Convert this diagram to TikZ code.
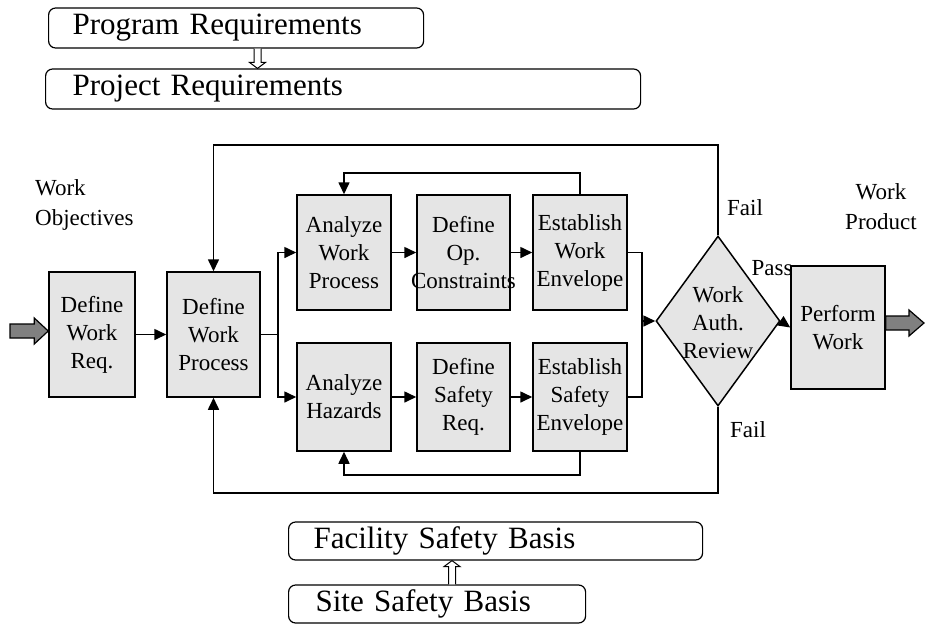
\documentclass[tikz,border=0pt]{standalone}
\usepackage{fontspec}
\setmainfont{Liberation Serif}
\usetikzlibrary{arrows.meta,shapes.geometric,calc}
\begin{document}
\begin{tikzpicture}[x=1pt,y=-1pt,
  every node/.style={font=\fontsize{23}{28}\selectfont},
  req/.style={draw, line width=1.2pt, rounded corners=7pt, inner sep=0pt,
    anchor=west, align=left, font=\fontsize{31}{36}\selectfont},
  proc/.style={draw, line width=1.5pt, fill=black!10, inner sep=0pt, align=center},
  flow/.style={line width=1.6pt},
  tip/.style={-{Triangle[length=12pt,width=11pt]}},
  fat/.style={draw, line width=1.2pt, fill=black!50},
  hollow/.style={draw, line width=1pt, fill=white},
  lbl/.style={inner sep=0pt}
]
\useasboundingbox (0,0) rectangle (927,625);

% requirement and safety-basis boxes
\node[req, minimum width=375pt, minimum height=40pt, inner xsep=24pt, text width=327pt]
  (prog) at (48,28) {Program Requirements};
\node[req, minimum width=595pt, minimum height=40pt, inner xsep=27pt, text width=541pt]
  (proj) at (45,89) {Project Requirements};
\node[req, minimum width=414pt, minimum height=38pt, inner xsep=25pt, text width=364pt]
  (fac) at (288,541) {Facility Safety Basis};
\node[req, minimum width=297pt, minimum height=38pt, inner xsep=27pt, text width=243pt]
  (site) at (288,604) {Site Safety Basis};

% process steps
\node[proc, minimum width=86pt, minimum height=125pt] (dwr) at (92,334.5) {Define\\Work\\Req.};
\node[proc, minimum width=93pt, minimum height=125pt] (dwp) at (213.5,334.5) {Define\\Work\\Process};
\node[proc, minimum width=94pt, minimum height=115pt] (awp) at (344,252.5) {Analyze\\Work\\Process};
\node[proc, minimum width=93pt, minimum height=115pt] (doc) at (463.5,252.5) {Define\\Op.\\\makebox[0pt]{Constraints}};
\node[proc, minimum width=94pt, minimum height=115pt] (ewe) at (580,252.5) {Establish\\Work\\Envelope};
\node[proc, minimum width=94pt, minimum height=108pt] (ah) at (344,397) {Analyze\\Hazards};
\node[proc, minimum width=93pt, minimum height=108pt] (dsr) at (463.5,397) {Define\\Safety\\Req.};
\node[proc, minimum width=94pt, minimum height=108pt] (ese) at (580,397) {Establish\\Safety\\Envelope};
\node[diamond, draw, line width=1.5pt, fill=black!10, inner sep=0pt,
  minimum width=124pt, minimum height=170pt,
  label={[lbl,align=center,yshift=-2pt]center:Work\\Auth.\\Review}] (war) at (718,321) {};
\node[proc, minimum width=94pt, minimum height=123pt] (pw) at (838,327.5) {Perform\\Work};

% free labels
\node[lbl, anchor=west, align=left, font=\fontsize{23}{30}\selectfont] (wobj) at (35,205) {Work\\Objectives};
\node[lbl, align=center, font=\fontsize{23}{30}\selectfont] (wprod) at (881,207) {Work\\Product};
\node[lbl] (failup) at (745,208) {Fail};
\node[lbl] (faildn) at (748,430) {Fail};
\node[lbl] (pass) at (772,268) {Pass};

% hollow arrows between the requirement boxes
\coordinate (pa) at (257.5,0);
\coordinate (a1) at (pa |- prog.south);
\coordinate (a2) at (pa |- proj.north);
\draw[hollow] ($(a1)+(-3.5,0)$) -- ($(a2)+(-3.5,-6)$) -- ($(a2)+(-8,-6)$) -- (a2)
  -- ($(a2)+(8,-6)$) -- ($(a2)+(3.5,-6)$) -- ($(a1)+(3.5,0)$);
\coordinate (sa) at (452,0);
\coordinate (b1) at (sa |- site.north);
\coordinate (b2) at (sa |- fac.south);
\draw[hollow] ($(b1)+(-3.5,0)$) -- ($(b2)+(-3.5,6)$) -- ($(b2)+(-8,6)$) -- (b2)
  -- ($(b2)+(8,6)$) -- ($(b2)+(3.5,6)$) -- ($(b1)+(3.5,0)$);

% input and output arrows
\coordinate (inT) at (10,331);
\coordinate (inH) at (dwr.west |- inT);
\draw[fat] ($(inT)+(0,-7)$) -- ($(inH)+(-14,-7)$) -- ($(inH)+(-14,-13)$) -- (inH)
  -- ($(inH)+(-14,13)$) -- ($(inH)+(-14,7)$) -- ($(inT)+(0,7)$) -- cycle;
\coordinate (outT) at (924,323);
\coordinate (outS) at (pw.east |- outT);
\draw[fat] ($(outS)+(0,-7)$) -- ($(outT)+(-15,-7)$) -- ($(outT)+(-15,-13)$) -- (outT)
  -- ($(outT)+(-15,13)$) -- ($(outT)+(-15,7)$) -- ($(outS)+(0,7)$) -- cycle;

% main flow
\draw[flow,tip] (dwr.east) -- (dwp.west);
\coordinate (split) at (278,0);
\draw[flow] (dwp.east) -- (split |- dwp.east);
\draw[flow,tip] (split |- dwp.east) |- (awp.west);
\draw[flow,tip] (split |- dwp.east) |- (ah.west);
\draw[flow,tip] (awp.east) -- (doc.west);
\draw[flow,tip] (doc.east) -- (ewe.west);
\draw[flow,tip] (ah.east) -- (dsr.west);
\draw[flow,tip] (dsr.east) -- (ese.west);
\coordinate (merge) at (642,0);
\draw[flow] (ewe.east) -| (merge |- ese.east) -- (ese.east);
\draw[flow,tip] (merge |- war.west) -- (war.west);
\draw[flow,tip] (war.east) -- (pw.west);

% inner feedback loops
\coordinate (topin) at (0,173);
\coordinate (botin) at (0,475);
\draw[flow,tip] (ewe.north) -- (ewe.north |- topin) -| (awp.north);
\draw[flow,tip] (ese.south) -- (ese.south |- botin) -| (ah.south);

% outer feedback loops from the review
\coordinate (topout) at (0,145);
\coordinate (botout) at (0,493);
\draw[flow,tip] (war.north) -- (war.north |- topout) -| (dwp.north);
\draw[flow,tip] (war.south) -- (war.south |- botout) -| (dwp.south);
\end{tikzpicture}
\end{document}
